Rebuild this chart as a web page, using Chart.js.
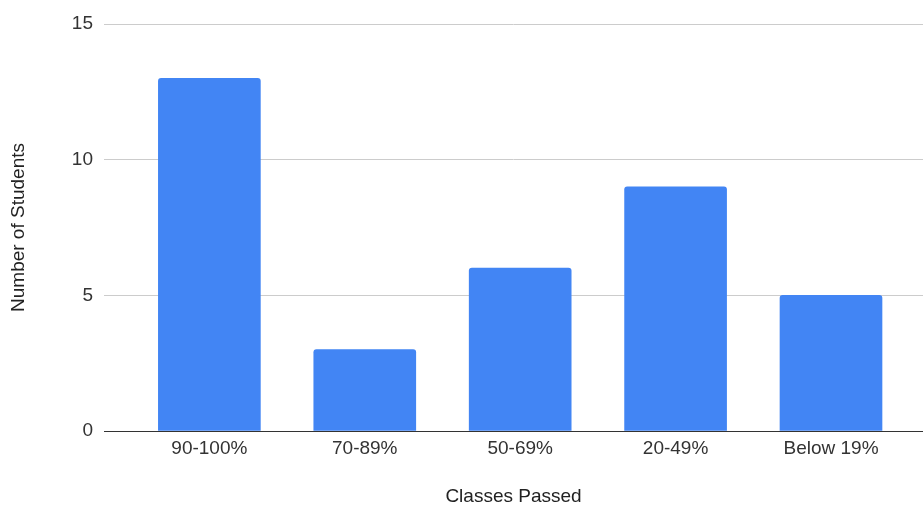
<!DOCTYPE html>
<html>
<head>
<meta charset="utf-8">
<script src="https://cdn.jsdelivr.net/npm/chart.js@4"></script>
<style>
  html, body { margin: 0; padding: 0; background: #ffffff; }
  #wrap { width: 923px; height: 506px; position: relative; }
</style>
</head>
<body>
<div id="wrap"><canvas id="c"></canvas></div>
<script>
const categories = ["90-100%", "70-89%", "50-69%", "20-49%", "Below 19%"];
const students = [13, 3, 6, 9, 5];
const yTicks = [0, 5, 10, 15];
const xTitle = "Classes Passed";
const yTitle = "Number of Students";

const points = students.map((v, i) => ({ x: i, y: v }));
const FONT = "'Liberation Sans', Arial, sans-serif";

new Chart(document.getElementById('c'), {
  type: 'bar',
  data: {
    datasets: [{
      data: points,
      backgroundColor: '#4285F4',
      borderWidth: 0,
      borderRadius: { topLeft: 3, topRight: 3, bottomLeft: 0, bottomRight: 0 },
      borderSkipped: false,
      barThickness: 102
    }]
  },
  options: {
    responsive: true,
    maintainAspectRatio: false,
    animation: false,
    layout: { padding: { top: 24, right: 0, bottom: 0, left: 0 } },
    plugins: { legend: { display: false }, tooltip: { enabled: false } },
    scales: {
      x: {
        type: 'linear',
        offset: false,
        min: -0.678,
        max: 4.592,
        afterFit: s => { s.height = 75; },
        afterBuildTicks: axis => { axis.ticks = categories.map((_, i) => ({ value: i })); },
        grid: { display: false, drawTicks: false },
        border: { display: true, color: '#333333', width: 1 },
        ticks: {
          padding: 6,
          maxRotation: 0,
          autoSkip: false,
          color: '#333333',
          font: { family: FONT, size: 19 },
          callback: v => categories[v]
        },
        title: {
          display: true,
          text: xTitle,
          color: '#222222',
          padding: 0,
          font: { family: FONT, size: 19, lineHeight: 1 }
        }
      },
      y: {
        min: 0,
        max: 15,
        afterFit: s => { s.width = 104; },
        afterBuildTicks: axis => { axis.ticks = yTicks.map(v => ({ value: v })); },
        grid: { color: '#cccccc', lineWidth: 1, drawTicks: false },
        border: { display: false },
        ticks: {
          padding: 11,
          color: '#333333',
          font: { family: FONT, size: 19 }
        },
        title: {
          display: true,
          text: yTitle,
          color: '#222222',
          padding: { top: 7, bottom: 0 },
          font: { family: FONT, size: 19 }
        }
      }
    }
  }
});
</script>
</body>
</html>
